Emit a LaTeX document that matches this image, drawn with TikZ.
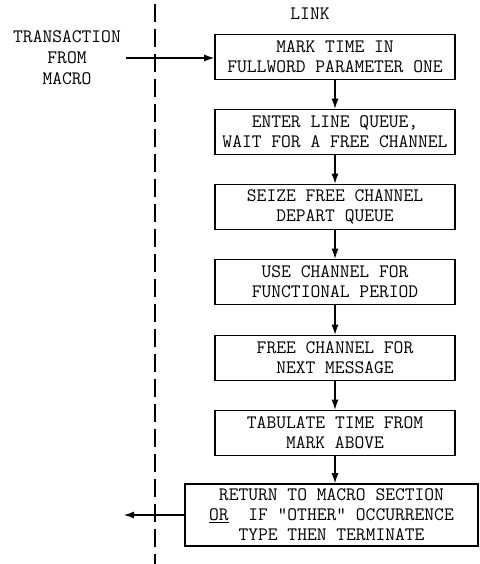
\documentclass[tikz,border=0pt]{standalone}
\usetikzlibrary{arrows.meta}
\begin{document}
\begin{tikzpicture}[x=1pt,y=-1pt,
  stepbox/.style={draw,line width=1.7pt,rectangle,align=center,
    minimum width=240pt,minimum height=45pt,inner sep=0pt,
    font=\fontsize{19}{20}\ttfamily},
  label/.style={align=center,inner sep=0pt,font=\fontsize{19}{21}\ttfamily},
  flow/.style={line width=1.1pt,-{Latex[length=10pt,width=7pt]}}]
\useasboundingbox (0,0) rectangle (479,564);

% boundary between macro and link sections
\coordinate (divtop) at (155,4);
\coordinate (divbot) at (155,564);
\draw[line width=1.3pt,dash pattern=on 18pt off 7pt] (divtop) -- (divbot);

\node[label] (link) at (310,14) {LINK};
\node[label] (src) at (67,58) {TRANSACTION\\FROM\\MACRO};

\node[stepbox] (b1) at (335,57)  {MARK TIME IN\\FULLWORD PARAMETER ONE};
\node[stepbox] (b2) at (335,132) {ENTER LINE QUEUE,\\WAIT FOR A FREE CHANNEL};
\node[stepbox] (b3) at (335,207) {SEIZE FREE CHANNEL\\DEPART QUEUE};
\node[stepbox] (b4) at (335,282) {USE CHANNEL FOR\\FUNCTIONAL PERIOD};
\node[stepbox] (b5) at (335,358) {FREE CHANNEL FOR\\NEXT MESSAGE};
\node[stepbox] (b6) at (335,433) {TABULATE TIME FROM\\MARK ABOVE};
\node[stepbox,minimum width=293pt,minimum height=62pt] (b7) at (331.5,515)
  {RETURN TO MACRO SECTION\\\underline{OR}\ \ IF "OTHER" OCCURRENCE\\TYPE THEN TERMINATE};

\coordinate (in) at (126,58);
\coordinate (out) at (124,515);

\draw[flow] (in) -- (b1.west |- in);
\draw[flow] (b1) -- (b2);
\draw[flow] (b2) -- (b3);
\draw[flow] (b3) -- (b4);
\draw[flow] (b4) -- (b5);
\draw[flow] (b5) -- (b6);
\draw[flow] (b6.south) -- (b6.south |- b7.north);
\draw[flow] (b7.west) -- (out);
\end{tikzpicture}
\end{document}
